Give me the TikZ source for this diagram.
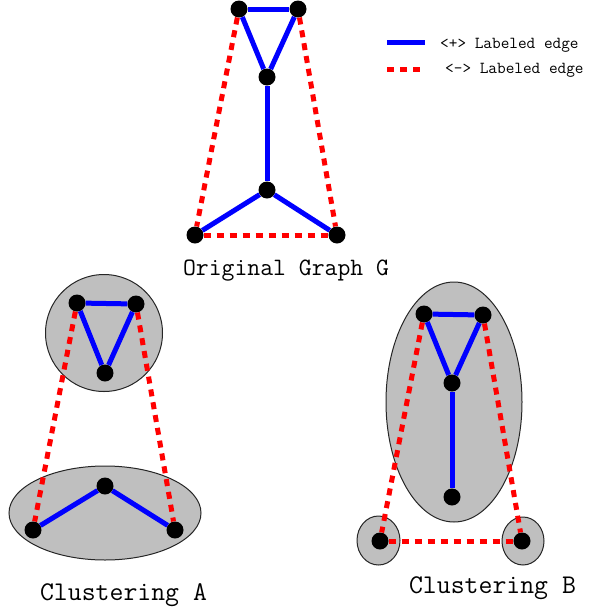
\documentclass[tikz,border=0pt]{standalone}
\usepackage{fontspec}
\begin{document}
\begin{tikzpicture}[x=1pt,y=-1pt,
  vtx/.style={circle,fill=black,inner sep=0pt,minimum size=17pt},
  posedge/.style={draw=blue,line width=5pt},
  negedge/.style={draw=red,line width=5pt,dash pattern=on 7pt off 6pt},
  clus/.style={fill=black!25,draw=black!85,line width=1pt},
  captxt/.style={font=\ttfamily\fontsize{25}{27}\selectfont,inner sep=0pt},
  clcap/.style={font=\ttfamily\fontsize{27}{29}\selectfont,inner sep=0pt},
  legtxt/.style={font=\ttfamily\fontsize{16.8}{18}\selectfont,inner sep=0pt,anchor=west}]
\useasboundingbox (0,0) rectangle (593,611);
% Original graph G
\node[vtx] (a1) at (239,9) {};
\node[vtx] (a2) at (298,9) {};
\node[vtx] (a3) at (267,77) {};
\node[vtx] (a4) at (267,190) {};
\node[vtx] (a5) at (195,235) {};
\node[vtx] (a6) at (337,235) {};
\draw[posedge] (a1) -- (a2);
\draw[posedge] (a1) -- (a3);
\draw[posedge] (a2) -- (a3);
\draw[posedge] (a3) -- (a4);
\draw[posedge] (a4) -- (a5);
\draw[posedge] (a4) -- (a6);
\draw[negedge] (a1) -- (a5);
\draw[negedge] (a2) -- (a6);
\draw[negedge] (a5) -- (a6);
\node[captxt] (tG) at (286,271) {Original Graph G};
% Legend
\coordinate (l1a) at (387,42);
\coordinate (l1b) at (425,42);
\coordinate (l2a) at (387,69);
\coordinate (l2b) at (425,69);
\draw[posedge] (l1a) -- (l1b);
\draw[negedge] (l2a) -- (l2b);
\node[legtxt] (lt1) at (440,45) {<+> Labeled edge};
\node[legtxt] (lt2) at (445,70) {<-> Labeled edge};
% Clustering A
\path[clus] (104,333) circle [radius=58.5];
\path[clus] (105,513) ellipse [x radius=96, y radius=47];
\node[vtx] (b1) at (77,303) {};
\node[vtx] (b2) at (136,304) {};
\node[vtx] (b3) at (105,373) {};
\node[vtx] (b4) at (105,486) {};
\node[vtx] (b5) at (33,530) {};
\node[vtx] (b6) at (175,530) {};
\draw[posedge] (b1) -- (b2);
\draw[posedge] (b1) -- (b3);
\draw[posedge] (b2) -- (b3);
\draw[posedge] (b4) -- (b5);
\draw[posedge] (b4) -- (b6);
\draw[negedge] (b1) -- (b5);
\draw[negedge] (b2) -- (b6);
\node[clcap] (tA) at (123.5,595) {Clustering A};
% Clustering B
\path[clus] (454,402) ellipse [x radius=68, y radius=120];
\path[clus] (378.5,540.5) ellipse [x radius=21.5, y radius=24.5];
\path[clus] (523,541) ellipse [x radius=21, y radius=24];
\node[vtx] (c1) at (424,314) {};
\node[vtx] (c2) at (483,315) {};
\node[vtx] (c3) at (452,383) {};
\node[vtx] (c4) at (452,497) {};
\node[vtx] (c5) at (380,541) {};
\node[vtx] (c6) at (522,541) {};
\draw[posedge] (c1) -- (c2);
\draw[posedge] (c1) -- (c3);
\draw[posedge] (c2) -- (c3);
\draw[posedge] (c3) -- (c4);
\draw[negedge] (c1) -- (c5);
\draw[negedge] (c2) -- (c6);
\draw[negedge] (c5) -- (c6);
\node[clcap] (tB) at (492.5,588) {Clustering B};
\end{tikzpicture}
\end{document}
